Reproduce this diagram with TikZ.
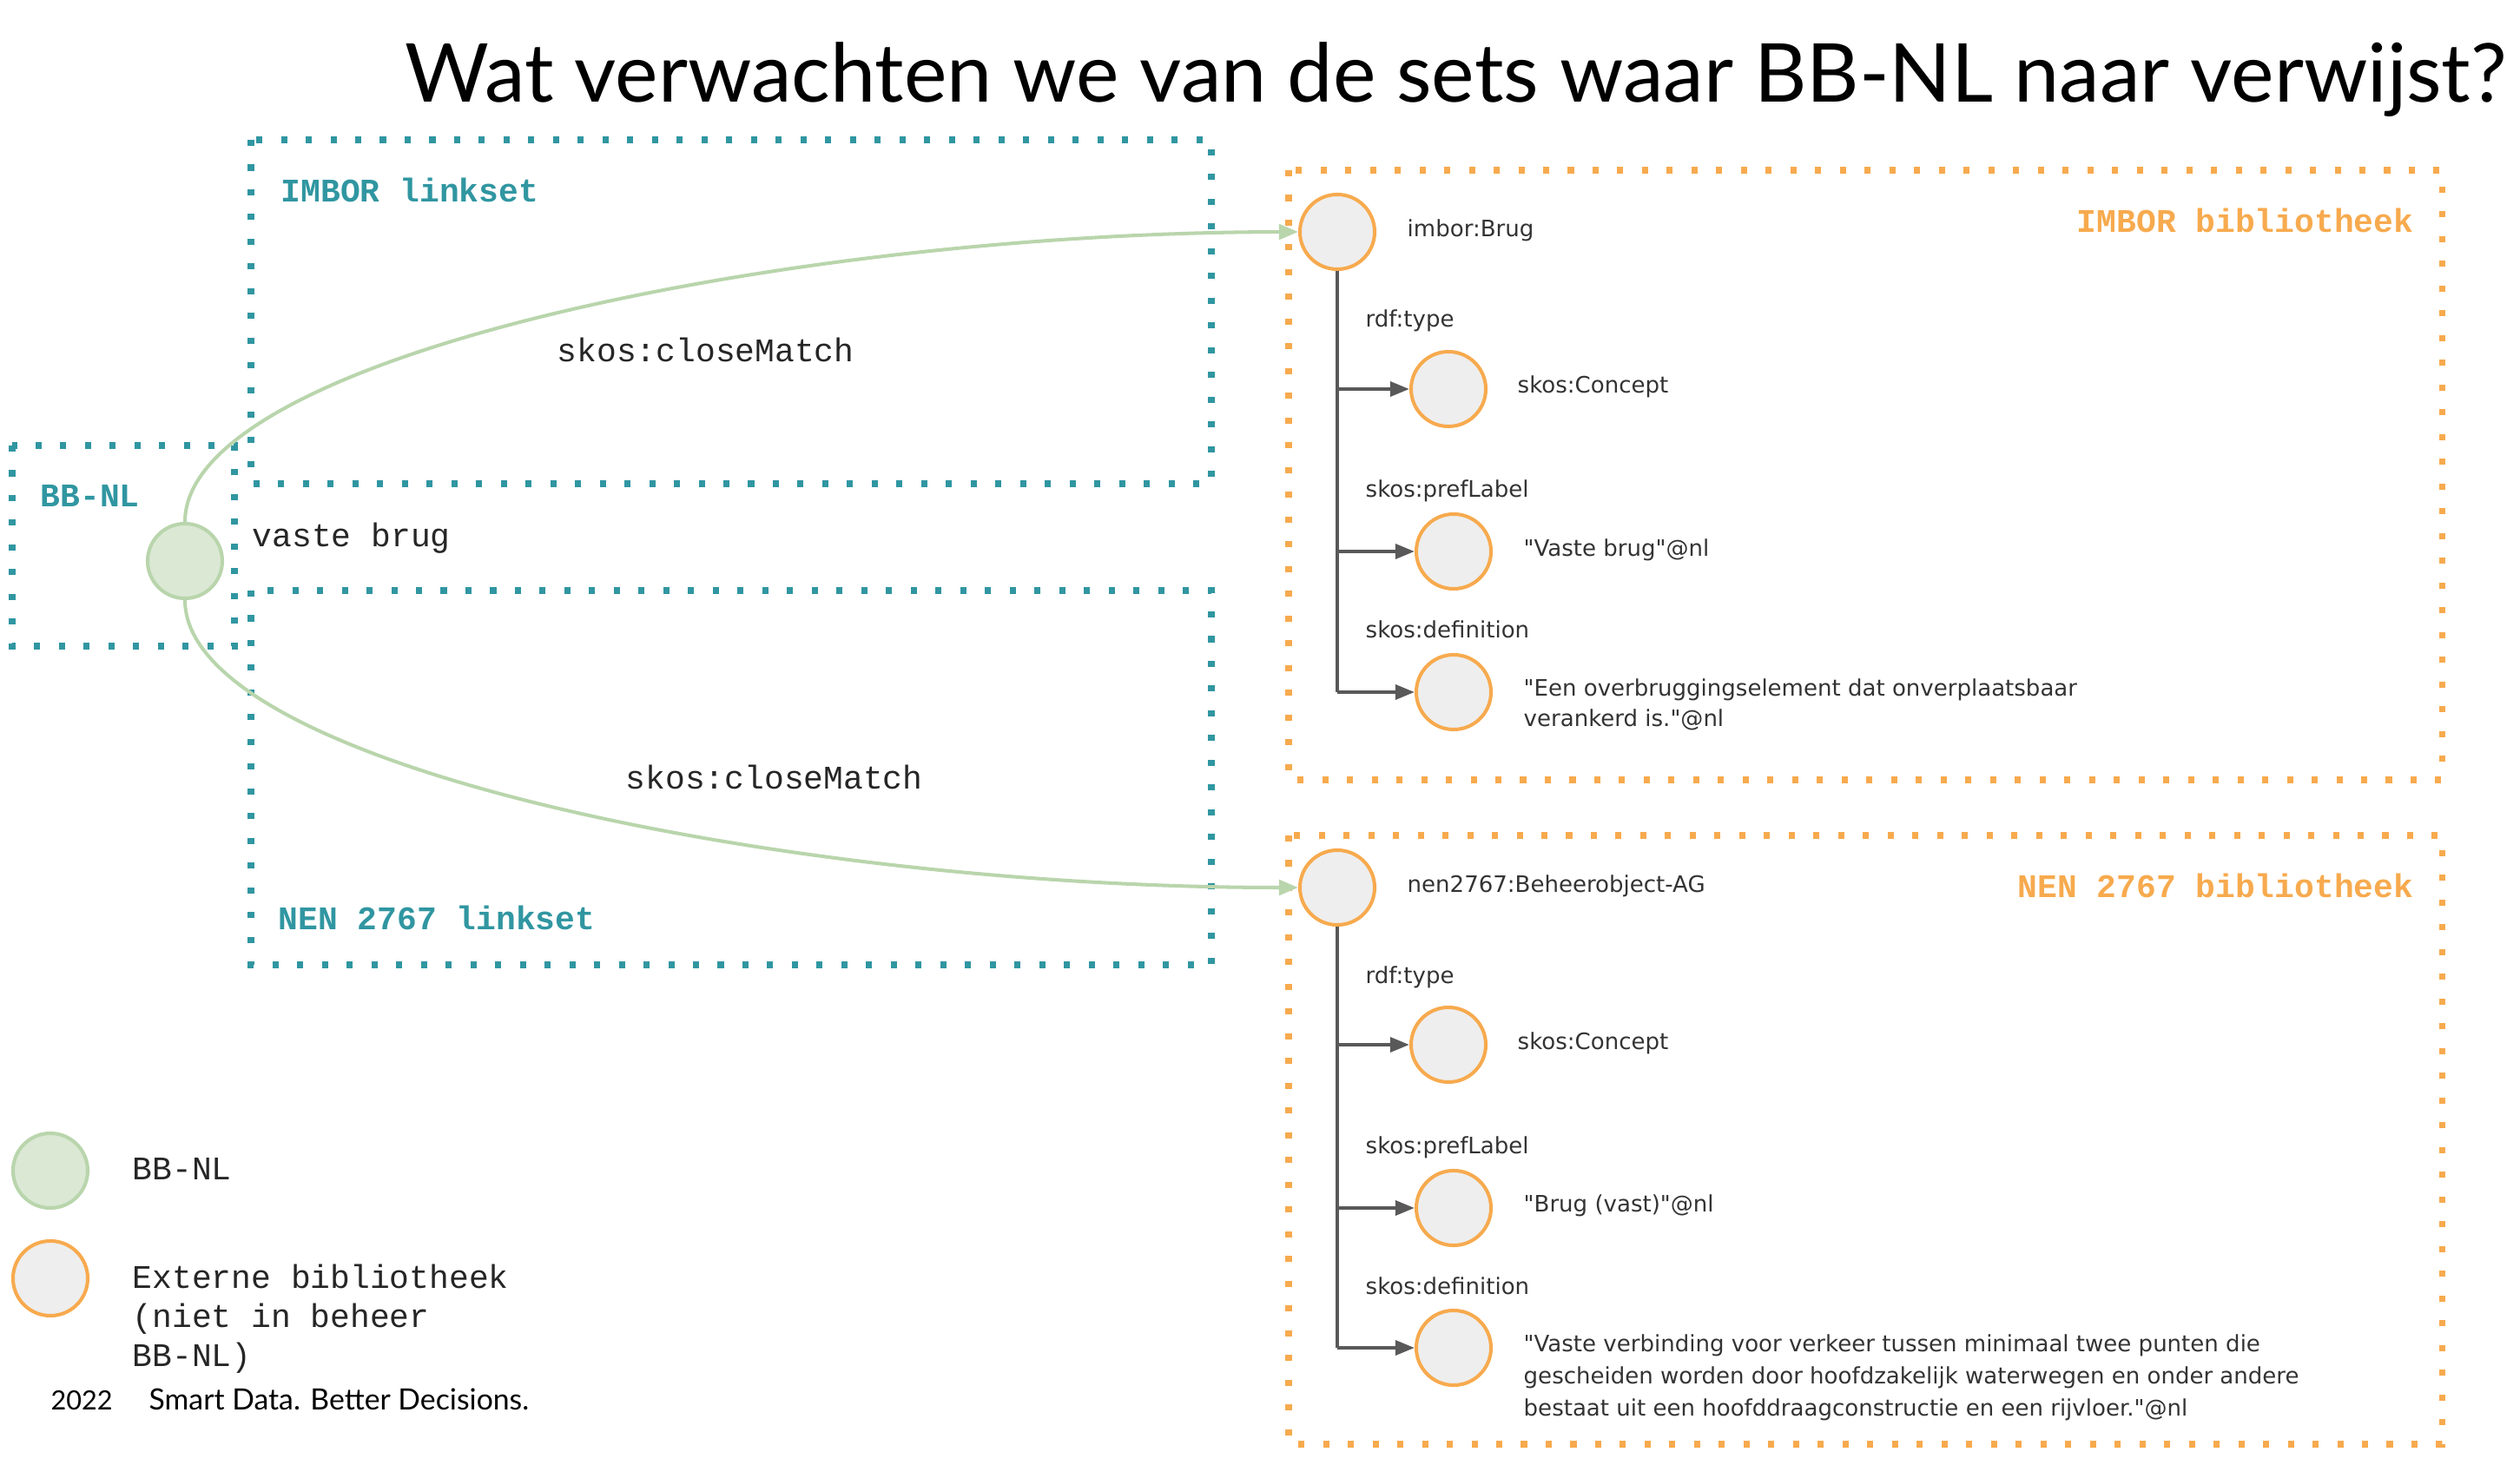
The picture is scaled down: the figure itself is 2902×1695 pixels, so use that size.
\documentclass[tikz,border=0pt]{standalone}
\usepackage{fontspec}
\setmainfont{DejaVu Sans}
\newfontfamily\lblf{DejaVu Sans}[Ligatures=TeXOff]
\newfontfamily\monof{Liberation Mono}
\newfontfamily\titlef{Lato}
\usetikzlibrary{arrows.meta}
\definecolor{teal1}{HTML}{3096A1}
\definecolor{orng}{HTML}{F7AA4E}
\definecolor{grnfill}{HTML}{DAE8D4}
\definecolor{grnline}{HTML}{B9D5AC}
\definecolor{grayfill}{HTML}{EEEEEE}
\definecolor{treecol}{HTML}{595959}
\definecolor{txtgray}{HTML}{333333}
\begin{document}
\begin{tikzpicture}[x=0.01cm,y=-0.01cm,
  tealbox/.style={draw=teal1, line width=2pt, dash pattern=on 2pt off 6.1pt},
  orangebox/.style={draw=orng, line width=2pt, dash pattern=on 2pt off 6.1pt},
  bbc/.style={circle, draw=grnline, fill=grnfill, line width=1.15pt, minimum size=0.86cm, inner sep=0pt},
  extc/.style={circle, draw=orng, fill=grayfill, line width=1.15pt, minimum size=0.86cm, inner sep=0pt},
  lbl/.style={anchor=base west, font=\lblf\fontsize{7.4}{10.3}\selectfont, text=txtgray, inner sep=0pt},
  mono/.style={anchor=base west, font=\monof\fontsize{10.8}{12.9}\selectfont, text=black!85, inner sep=0pt},
  tealtxt/.style={anchor=base west, font=\monof\bfseries\fontsize{10.8}{12.9}\selectfont, text=teal1, inner sep=0pt},
  orngtxt/.style={anchor=base east, font=\monof\bfseries\fontsize{10.8}{12.9}\selectfont, text=orng, inner sep=0pt},
  treeline/.style={draw=treecol, line width=1.15pt},
  treearrow/.style={draw=treecol, line width=1.15pt, -{Triangle[length=6.3pt,width=4.8pt]}},
  matcharrow/.style={draw=grnline, line width=1.15pt, -{Triangle[length=6.3pt,width=5pt]}}
]
\useasboundingbox (0,0) rectangle (2902,1695);

% title
\node[anchor=base west, font=\titlef\fontsize{26.6}{30}\selectfont, inner sep=0pt] (title) at (466,118) {Wat verwachten we van de sets waar BB-NL naar verwijst?};

% teal linkset boxes
\draw[tealbox] (289,161) rectangle (1395,557);
\draw[tealbox] (289,680) rectangle (1395,1111);
\draw[tealbox] (14,513) rectangle (270,744);
\node[tealtxt] (imborls) at (323,233) {IMBOR linkset};
\node[tealtxt] (nenls) at (320,1071) {NEN 2767 linkset};
\node[tealtxt] (bbnllbl) at (46,584) {BB-NL};

% orange library boxes
\draw[orangebox] (1484,196) rectangle (2812,898);
\draw[orangebox] (1484,962) rectangle (2812,1663);
\node[orngtxt] (imborbib) at (2780,268) {IMBOR bibliotheek};
\node[orngtxt] (nenbib) at (2780,1034) {NEN 2767 bibliotheek};

% BB-NL concept
\node[bbc] (bb) at (213,646) {};
\node[mono] (vb) at (290,630) {vaste brug};

% IMBOR library
\node[extc] (ib) at (1540,267) {};
\node[lbl] (ibt) at (1620,273) {imbor:Brug};
\node[extc] (ic1) at (1668,448) {};
\node[extc] (ic2) at (1674,635) {};
\node[extc] (ic3) at (1674,797) {};
\node[lbl] (ip1) at (1572,377) {rdf:type};
\node[lbl] (ip2) at (1572,573) {skos:prefLabel};
\node[lbl] (ip3) at (1572,735) {skos:definition};
\node[lbl] (io1) at (1747,453) {skos:Concept};
\node[lbl] (io2) at (1754,641) {"Vaste brug"@nl};
\node[lbl] (io3a) at (1754,802) {"Een overbruggingselement dat onverplaatsbaar};
\node[lbl] (io3b) at (1754,837) {verankerd is."@nl};
\coordinate (ia1) at (1540,448);
\coordinate (ia2) at (1540,635);
\coordinate (ia3) at (1540,797);
\draw[treeline] (ib.south) -- (ia3);
\draw[treearrow] (ia1) -- (ic1.west);
\draw[treearrow] (ia2) -- (ic2.west);
\draw[treearrow] (ia3) -- (ic3.west);

% NEN library
\node[extc] (nb) at (1540,1022) {};
\node[lbl] (nbt) at (1620,1028) {nen2767:Beheerobject-AG};
\node[extc] (nc1) at (1668,1203) {};
\node[extc] (nc2) at (1674,1391) {};
\node[extc] (nc3) at (1674,1552) {};
\node[lbl] (np1) at (1572,1133) {rdf:type};
\node[lbl] (np2) at (1572,1329) {skos:prefLabel};
\node[lbl] (np3) at (1572,1491) {skos:definition};
\node[lbl] (no1) at (1747,1209) {skos:Concept};
\node[lbl] (no2) at (1754,1396) {"Brug (vast)"@nl};
\node[lbl] (no3a) at (1754,1556) {"Vaste verbinding voor verkeer tussen minimaal twee punten die};
\node[lbl] (no3b) at (1754,1593) {gescheiden worden door hoofdzakelijk waterwegen en onder andere};
\node[lbl] (no3c) at (1754,1630) {bestaat uit een hoofddraagconstructie en een rijvloer."@nl};
\coordinate (na1) at (1540,1203);
\coordinate (na2) at (1540,1391);
\coordinate (na3) at (1540,1552);
\draw[treeline] (nb.south) -- (na3);
\draw[treearrow] (na1) -- (nc1.west);
\draw[treearrow] (na2) -- (nc2.west);
\draw[treearrow] (na3) -- (nc3.west);

% closeMatch links
\draw[matcharrow] (bb.north) .. controls (213,412) and (900,268) .. (ib.west);
\draw[matcharrow] (bb.south) .. controls (213,880) and (900,1022) .. (nb.west);
\node[mono] (cm1) at (641,417) {skos:closeMatch};
\node[mono] (cm2) at (720,909) {skos:closeMatch};

% legend
\node[bbc] (lg1) at (58,1348) {};
\node[extc] (lg2) at (58,1472) {};
\node[mono] (lt1) at (152,1359) {BB-NL};
\node[mono] (lt2a) at (152,1483) {Externe bibliotheek};
\node[mono] (lt2b) at (152,1528) {(niet in beheer};
\node[mono] (lt2c) at (152,1573) {BB-NL)};

% footer
\node[anchor=base west, font=\titlef\fontsize{8.7}{10}\selectfont, inner sep=0pt] (yr) at (58,1623) {2022};
\node[anchor=base west, font=\titlef\fontsize{9.6}{11}\selectfont, inner sep=0pt] (slogan) at (171,1623) {Smart Data. Better Decisions.};
\end{tikzpicture}
\end{document}
